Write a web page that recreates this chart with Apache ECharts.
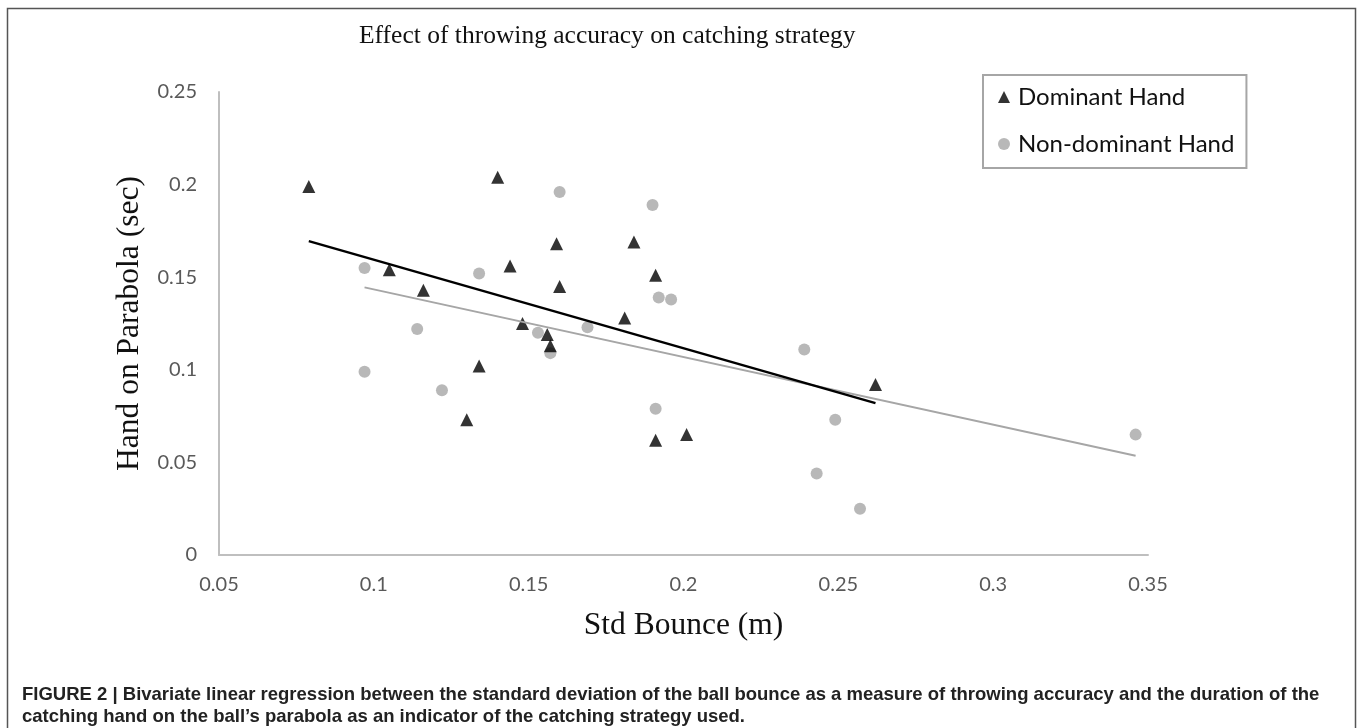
<!DOCTYPE html>
<html>
<head>
<meta charset="utf-8">
<script src="https://cdn.jsdelivr.net/npm/echarts@6/dist/echarts.min.js"></script>
<style>
html,body{margin:0;padding:0;background:#fff;}
#chart{width:1360px;height:728px;}
</style>
</head>
<body>
<div id="chart"></div>
<script>
// ---- data ----
const seriesNames = ['Dominant Hand', 'Non-dominant Hand'];
const dominantX = [0.079, 0.105, 0.116, 0.130, 0.134, 0.140, 0.144, 0.148, 0.156, 0.157, 0.159, 0.160, 0.181, 0.184, 0.191, 0.191, 0.201, 0.262];
const dominantY = [0.199, 0.154, 0.143, 0.073, 0.102, 0.204, 0.156, 0.125, 0.119, 0.113, 0.168, 0.145, 0.128, 0.169, 0.151, 0.062, 0.065, 0.092];
const nonDominantX = [0.097, 0.097, 0.114, 0.122, 0.134, 0.153, 0.157, 0.160, 0.169, 0.190, 0.191, 0.192, 0.196, 0.239, 0.243, 0.249, 0.257, 0.346];
const nonDominantY = [0.155, 0.099, 0.122, 0.089, 0.152, 0.120, 0.109, 0.196, 0.123, 0.189, 0.079, 0.139, 0.138, 0.111, 0.044, 0.073, 0.025, 0.065];
const trendDominant = [[0.079, 0.1695], [0.262, 0.082]];
const trendNonDominant = [[0.097, 0.1445], [0.346, 0.0536]];
const xTicks = [0.05, 0.1, 0.15, 0.2, 0.25, 0.3, 0.35];
const yTicks = [0, 0.05, 0.1, 0.15, 0.2, 0.25];
const titleText = 'Effect of throwing accuracy on catching strategy';
const xTitle = 'Std Bounce (m)';
const yTitle = 'Hand on Parabola (sec)';
const captionLine1 = 'FIGURE 2 | Bivariate linear regression between the standard deviation of the ball bounce as a measure of throwing accuracy and the duration of the';
const captionLine2 = 'catching hand on the ball\u2019s parabola as an indicator of the catching strategy used.';

const zip = (xs, ys) => xs.map((x, i) => [x, ys[i]]);

const chart = echarts.init(document.getElementById('chart'), null, {renderer: 'canvas'});
const option = {
  animation: false,
  backgroundColor: '#ffffff',
  title: {
    text: titleText,
    left: 354,
    top: 18,
    textStyle: {fontFamily: 'Liberation Serif', fontSize: 25.5, fontWeight: 'normal', color: '#111'}
  },
  grid: {left: 219, right: 212, top: 92, bottom: 173, containLabel: false},
  legend: {
    orient: 'vertical',
    left: 983,
    top: 75,
    data: [
      {name: seriesNames[0], icon: 'triangle'},
      {name: seriesNames[1], icon: 'circle'}
    ],
    itemWidth: 12,
    itemHeight: 12,
    itemGap: 23,
    padding: [10, 12, 12, 15],
    borderColor: '#A6A6A6',
    borderWidth: 2,
    textStyle: {fontFamily: 'Lato', fontSize: 24, color: '#111', lineHeight: 24, padding: [0, 0, 0, 3]}
  },
  xAxis: {
    type: 'value',
    min: 0.05, max: 0.35, interval: 0.05,
    name: xTitle,
    nameLocation: 'middle',
    nameGap: 55,
    nameTextStyle: {fontFamily: 'Liberation Serif', fontSize: 31.5, color: '#111'},
    axisLine: {show: true, lineStyle: {color: '#BFBFBF', width: 2}},
    axisTick: {show: false},
    splitLine: {show: false},
    axisLabel: {
      margin: 20,
      fontFamily: 'Lato', fontSize: 20, color: '#595959',
      formatter: v => { const t = xTicks.find(k => Math.abs(k - v) < 1e-9); return t === undefined ? '' : String(t); }
    }
  },
  yAxis: {
    type: 'value',
    min: 0, max: 0.25, interval: 0.05,
    name: yTitle,
    nameLocation: 'middle',
    nameGap: 73,
    nameTextStyle: {fontFamily: 'Liberation Serif', fontSize: 31.5, color: '#111'},
    axisLine: {show: true, lineStyle: {color: '#BFBFBF', width: 2}},
    axisTick: {show: false},
    splitLine: {show: false},
    axisLabel: {
      margin: 22,
      fontFamily: 'Lato', fontSize: 20, color: '#595959',
      formatter: v => { const t = yTicks.find(k => Math.abs(k - v) < 1e-9); return t === undefined ? '' : String(t); }
    }
  },
  series: [
    {
      name: seriesNames[0], type: 'scatter', symbol: 'triangle', symbolSize: 13,
      itemStyle: {color: '#000000'},
      data: zip(dominantX, dominantY), z: 3
    },
    {
      name: seriesNames[1], type: 'scatter', symbol: 'circle', symbolSize: 12,
      itemStyle: {color: '#A6A6A6'},
      data: zip(nonDominantX, nonDominantY), z: 2
    },
    {
      name: 'trend-dominant', type: 'line', showSymbol: false, symbol: 'none',
      lineStyle: {color: '#000000', width: 2.5},
      data: trendDominant, z: 5, silent: true
    },
    {
      name: 'trend-nondominant', type: 'line', showSymbol: false, symbol: 'none',
      lineStyle: {color: '#A6A6A6', width: 2},
      data: trendNonDominant, z: 4, silent: true
    }
  ],
  graphic: [
    {
      type: 'rect', silent: true, z: -10,
      shape: {x: 7.5, y: 8.5, width: 1348, height: 740},
      style: {fill: 'none', stroke: '#555555', lineWidth: 1.5}
    },
    {
      type: 'text', left: 22, top: 685, silent: true,
      style: {text: captionLine1, fontFamily: 'Liberation Sans', fontWeight: 'bold', fontSize: 18.5, fill: '#222'}
    },
    {
      type: 'text', left: 22, top: 707, silent: true,
      style: {text: captionLine2, fontFamily: 'Liberation Sans', fontWeight: 'bold', fontSize: 18.5, fill: '#222'}
    }
  ]
};
chart.setOption(option);
</script>
</body>
</html>
